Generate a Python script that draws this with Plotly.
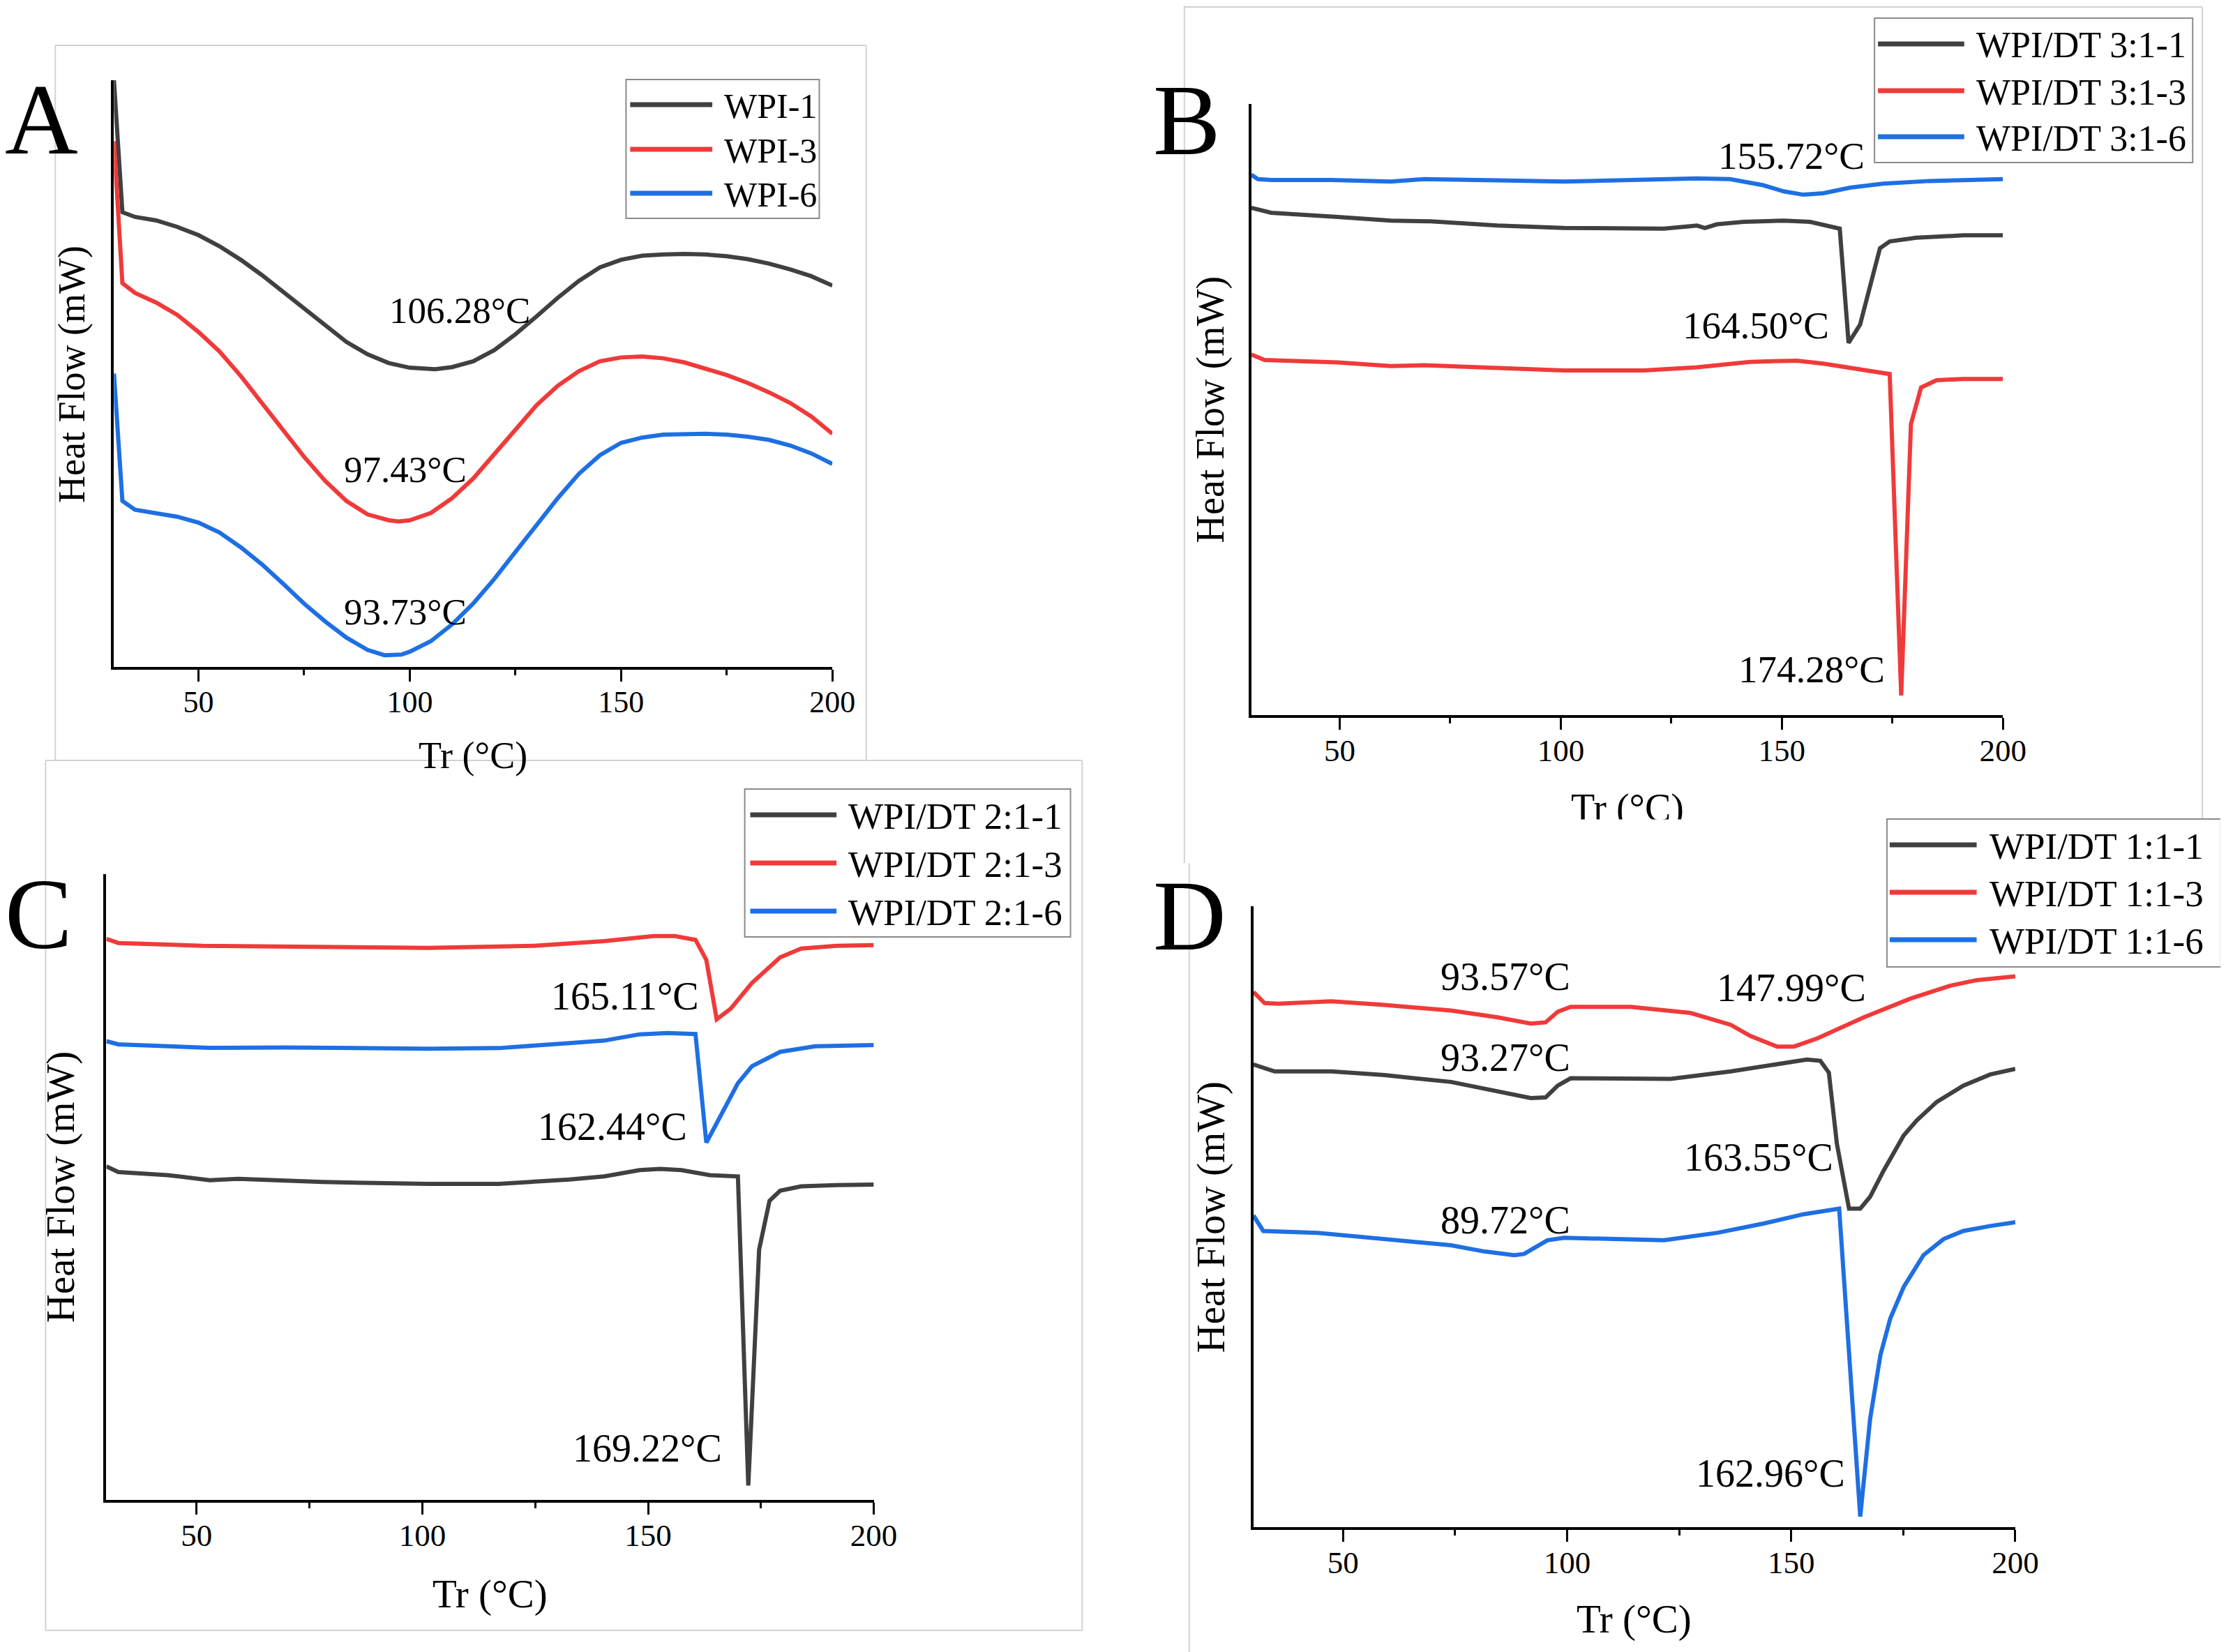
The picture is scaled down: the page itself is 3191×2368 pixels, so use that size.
import plotly.graph_objects as go

W, H = 3191, 2368
FONT = "Liberation Serif"
C_BLACK = "#404040"
C_RED = "#f03a3a"
C_BLUE = "#1e6fe3"

# ---------------- Panel A (WPI) ----------------
a_t1 = [30, 32, 35, 40, 45, 50, 55, 60, 65, 70, 75, 80, 85, 90, 95, 100, 106, 110, 115, 120,
        125, 130, 135, 140, 145, 150, 155, 160, 165, 170, 175, 180, 185, 190, 195, 200]
a_hf1 = [100.0, 77.5, 76.7, 76.1, 75.0, 73.6, 71.7, 69.4, 66.8, 63.9, 61.1, 58.1, 55.4, 53.3, 51.8,
         51.0, 50.75, 51.1, 52.1, 54.0, 56.7, 59.75, 62.9, 65.8, 68.1, 69.4, 70.1, 70.3, 70.4, 70.3,
         70.0, 69.5, 68.75, 67.75, 66.6, 65.0]
a_t3 = [30, 32, 35, 40, 45, 50, 55, 60, 65, 70, 75, 80, 85, 90, 95, 97.4, 100, 105, 110, 115, 120,
        125, 130, 135, 140, 145, 150, 155, 160, 165, 170, 175, 180, 185, 190, 195, 200]
a_hf3 = [89.6, 65.4, 63.75, 62.1, 60.0, 57.1, 53.75, 49.6, 45.0, 40.4, 35.8, 31.7, 28.3, 26.0, 25.0,
         24.8, 25.0, 26.25, 28.75, 32.1, 36.25, 40.4, 44.6, 47.9, 50.4, 52.1, 52.75, 52.9, 52.6, 51.9,
         50.9, 49.75, 48.4, 46.8, 45.0, 42.7, 39.75]
a_t6 = [30, 32, 35, 40, 45, 50, 55, 60, 65, 70, 75, 80, 85, 90, 94, 98, 100, 105, 110, 115, 120,
        125, 130, 135, 140, 145, 150, 155, 160, 165, 170, 175, 180, 185, 190, 195, 200]
a_hf6 = [50.0, 28.3, 26.8, 26.25, 25.6, 24.6, 22.9, 20.4, 17.5, 14.2, 10.8, 7.75, 5.0, 2.9, 2.0,
         2.1, 2.6, 4.4, 7.25, 10.8, 15.0, 19.6, 24.2, 28.75, 32.9, 36.1, 38.2, 39.1, 39.6, 39.75,
         39.75, 39.6, 39.25, 38.7, 37.75, 36.4, 34.6]
a_names = ["WPI-1", "WPI-3", "WPI-6"]
a_peaks = ["106.28°C", "97.43°C", "93.73°C"]
a_peak_t = [111.8, 98.9, 98.9]
a_peak_hf = [60.8, 33.6, 9.4]

# ---------------- Panel B (WPI/DT 3:1) ----------------
b_t1 = [30, 34.5, 49.6, 61.6, 70.6, 85.7, 100.7, 123.3, 129.3, 130.8, 132.6, 135.3, 141.3, 150.4,
        156.4, 163.1, 165.1, 167.7, 172.2, 174.4, 180.4, 191.0, 200]
b_hf1 = [83.0, 82.2, 81.5, 80.9, 80.8, 80.1, 79.7, 79.6, 80.0, 80.1, 79.7, 80.3, 80.7, 80.9,
         80.7, 79.6, 60.9, 63.9, 76.4, 77.5, 78.1, 78.5, 78.5]
b_t3 = [30, 33.0, 49.6, 61.6, 69.1, 85.7, 100.7, 118.8, 130.8, 142.8, 153.4, 159.4, 168.4, 174.4,
        177.0, 179.2, 181.5, 185.0, 191.0, 200]
b_hf3 = [59.0, 58.1, 57.7, 57.1, 57.25, 56.8, 56.4, 56.4, 56.9, 57.8, 58.0, 57.5, 56.4, 55.8,
         3.2, 47.6, 53.6, 54.8, 55.0, 55.0]
b_t6 = [30, 31.5, 34.5, 48.1, 61.6, 69.1, 85.7, 100.7, 130.8, 138.3, 145.8, 150.4, 154.9, 159.4,
        165.4, 172.9, 183.5, 200]
b_hf6 = [88.4, 87.7, 87.55, 87.55, 87.3, 87.7, 87.5, 87.3, 87.8, 87.7, 86.7, 85.7, 85.15, 85.4,
         86.3, 86.95, 87.4, 87.7]
b_names = ["WPI/DT 3:1-1", "WPI/DT 3:1-3", "WPI/DT 3:1-6"]
b_peaks = ["155.72°C", "164.50°C", "174.28°C"]
b_peak_t = [152.2, 144.1, 156.7]
b_peak_hf = [91.5, 63.8, 7.5]

# ---------------- Panel C (WPI/DT 2:1) ----------------
c_t1 = [30, 32.65, 43.6, 52.9, 59.2, 77.9, 101.3, 116.9, 132.5, 140.3, 148.1, 152.7, 157.4, 163.7,
        169.9, 172.2, 174.6, 176.9, 179.25, 183.9, 191.7, 200]
c_hf1 = [53.3, 52.4, 51.9, 51.1, 51.3, 50.8, 50.5, 50.5, 51.2, 51.7, 52.7, 52.9, 52.7, 51.9,
         51.7, 2.3, 40.0, 47.8, 49.4, 50.1, 50.3, 50.4]
c_t3 = [30, 32.65, 51.4, 70.1, 101.3, 124.7, 140.3, 151.2, 155.9, 160.5, 162.9, 165.2, 168.3, 173.0,
        179.25, 183.9, 191.7, 200]
c_hf3 = [89.65, 89.0, 88.55, 88.4, 88.2, 88.55, 89.3, 90.1, 90.1, 89.5, 86.3, 76.8, 78.5, 82.6,
         86.7, 88.1, 88.55, 88.65]
c_t6 = [30, 32.65, 52.9, 70.1, 101.3, 116.9, 132.5, 140.3, 148.1, 154.3, 160.5, 162.9, 165.2, 169.9,
        173.0, 179.25, 187.0, 200]
c_hf6 = [73.3, 72.8, 72.25, 72.3, 72.1, 72.2, 73.0, 73.4, 74.4, 74.6, 74.45, 57.1, 60.2, 66.6,
         69.3, 71.6, 72.5, 72.7]
c_names = ["WPI/DT 2:1-1", "WPI/DT 2:1-3", "WPI/DT 2:1-6"]
c_peaks = ["165.11°C", "162.44°C", "169.22°C"]
c_peak_t = [144.9, 142.1, 149.9]
c_peak_hf = [80.5, 59.6, 8.3]

# ---------------- Panel D (WPI/DT 1:1) ----------------
d_t1 = [30, 34.75, 47.4, 59.25, 74.1, 84.5, 91.9, 95.2, 97.9, 100.8, 114.2, 123.1, 136.5, 146.85,
        153.5, 156.5, 158.4, 160.2, 162.9, 165.4, 167.6, 170.6, 175.1, 178.0, 182.5, 188.4, 194.4, 200]
d_hf1 = [74.5, 73.4, 73.4, 72.8, 71.7, 70.2, 69.1, 69.2, 71.1, 72.3, 72.3, 72.2, 73.4, 74.5,
         75.3, 75.1, 73.2, 61.7, 51.3, 51.3, 53.2, 57.4, 63.1, 65.5, 68.5, 71.1, 72.9, 73.8]
d_t3 = [30, 32.5, 35.5, 47.4, 59.25, 74.1, 84.5, 91.9, 95.2, 97.9, 100.8, 114.2, 127.55, 136.5,
        140.9, 146.85, 150.6, 155.8, 166.2, 176.5, 185.5, 191.4, 200]
d_hf3 = [86.2, 84.4, 84.3, 84.7, 84.1, 83.2, 82.1, 81.1, 81.3, 83.0, 83.8, 83.8, 82.8, 80.9,
         79.1, 77.4, 77.4, 78.7, 82.1, 85.1, 87.2, 88.1, 88.7]
d_t6 = [30, 32.2, 44.4, 59.25, 74.1, 81.5, 88.2, 90.4, 95.6, 99.3, 121.6, 133.5, 143.9, 152.8,
        160.7, 165.4, 167.6, 169.9, 172.1, 175.1, 179.5, 184.0, 188.4, 194.4, 200]
d_hf6 = [50.2, 47.7, 47.4, 46.4, 45.4, 44.4, 43.8, 44.0, 46.2, 46.6, 46.2, 47.4, 48.9, 50.4,
         51.3, 1.7, 17.4, 27.7, 33.6, 38.7, 43.8, 46.4, 47.7, 48.5, 49.1]
d_names = ["WPI/DT 1:1-1", "WPI/DT 1:1-3", "WPI/DT 1:1-6"]
d_peaks = ["93.57°C", "147.99°C", "93.27°C", "163.55°C", "89.72°C", "162.96°C"]
d_peak_t = [86.3, 150.1, 86.3, 142.8, 86.3, 145.4]
d_peak_hf = [88.6, 86.9, 75.6, 59.6, 49.4, 8.6]

x_ticks = [50, 100, 150, 200]
x_minor = [75, 125, 175]
x_title = "Tr (°C)"
y_title = "Heat Flow (mW)"
colors = [C_BLACK, C_RED, C_BLUE]


def fx(px):
    return px / W


def fy(py):
    return 1 - py / H


panels = [
    dict(key="", series=[(a_t1, a_hf1), (a_t3, a_hf3), (a_t6, a_hf6)], names=a_names,
         peaks=(a_peaks, a_peak_t, a_peak_hf), xd=(157, 1198), yd=(107, 948),
         letter="A", letter_pos=(52, 163), ytit=(96, 528), xtit=(677, 1075),
         leg=dict(box=(899, 106, 1179, 305), lx=(905, 1024), rows=(142, 206, 269), tx=1039, fs=50),
         fs_note=53, fs_title=54, fs_tick=44),
    dict(key="2", series=[(b_t1, b_hf1), (b_t3, b_hf3), (b_t6, b_hf6)], names=b_names,
         peaks=(b_peaks, b_peak_t, b_peak_hf), xd=(1805, 2894), yd=(141, 1017),
         letter="B", letter_pos=(1712, 164), ytit=(1747, 579), xtit=(2350, 1150),
         leg=dict(box=(2708, 18, 3169, 225), lx=(2713, 2838), rows=(55, 122, 188), tx=2853, fs=52),
         fs_note=55, fs_title=56, fs_tick=45),
    dict(key="3", series=[(c_t1, c_hf1), (c_t3, c_hf3), (c_t6, c_hf6)], names=c_names,
         peaks=(c_peaks, c_peak_t, c_peak_hf), xd=(146, 1258), yd=(1245, 2142),
         letter="C", letter_pos=(48, 1302), ytit=(80, 1694), xtit=(702, 2277),
         leg=dict(box=(1071, 1123, 1543, 1335), lx=(1079, 1204), rows=(1160, 1229, 1298), tx=1219, fs=53),
         fs_note=56, fs_title=57, fs_tick=45),
    dict(key="4", series=[(d_t1, d_hf1), (d_t3, d_hf3), (d_t6, d_hf6)], names=d_names,
         peaks=(d_peaks, d_peak_t, d_peak_hf), xd=(1808, 2912), yd=(1291, 2181),
         letter="D", letter_pos=(1716, 1304), ytit=(1747, 1737), xtit=(2360, 2313),
         leg=dict(box=(2726, 1166, 3210, 1378), lx=(2730, 2856), rows=(1203, 1271, 1339), tx=2873, fs=53),
         fs_note=56, fs_title=57, fs_tick=45),
]

fig = go.Figure()
annotations = []
shapes = []

# faint borders of the four sub-images
border = dict(color="#d2d2d2", width=2)
for (x0, y0, x1, y1) in [
    (72, 57, 72, 1082), (72, 57, 1247, 57), (1247, 57, 1247, 1082),          # A
    (58, 1082, 1560, 1082), (58, 1082, 58, 2329), (1560, 1082, 1560, 2329), (58, 2329, 1560, 2329),  # C
    (1708, 0, 1708, 1229), (1708, 2, 3183, 2), (3183, 2, 3183, 1166),        # B
    (1715, 1229, 1715, 2368),                                                 # D
]:
    shapes.append(dict(type="line", xref="paper", yref="paper", x0=fx(x0), y0=fy(y0),
                       x1=fx(x1), y1=fy(y1), line=border, layer="below"))

layout_axes = {}
for p in panels:
    k = p["key"]
    xa, ya = "x" + k, "y" + k
    for (t, hf), name, col in zip(p["series"], p["names"], colors):
        fig.add_trace(go.Scatter(x=t, y=hf, mode="lines", name=name, xaxis=xa, yaxis=ya,
                                 line=dict(color=col, width=6), showlegend=False))
    layout_axes["xaxis" + k] = dict(
        domain=[fx(p["xd"][0]), fx(p["xd"][1])], anchor=ya, range=[30, 200],
        showline=True, linecolor="black", linewidth=3.5, showgrid=False, zeroline=False,
        tickmode="array", tickvals=x_ticks, ticks="outside", ticklen=17, tickwidth=3,
        tickcolor="black", tickfont=dict(family=FONT, size=p["fs_tick"], color="black"),
        ticklabelstandoff=-9,
        minor=dict(tickmode="array", tickvals=x_minor, ticks="outside", ticklen=8,
                   tickwidth=3, tickcolor="black", showgrid=False),
        fixedrange=True)
    layout_axes["yaxis" + k] = dict(
        domain=[fy(p["yd"][1]), fy(p["yd"][0])], anchor=xa, range=[0, 100],
        showline=True, linecolor="black", linewidth=3.5, showgrid=False, zeroline=False,
        showticklabels=False, ticks="", fixedrange=True)

    # peak labels
    texts, pts, phf = p["peaks"]
    for txt, t, v in zip(texts, pts, phf):
        annotations.append(dict(text=txt, x=t, y=v, xref=xa, yref=ya, showarrow=False,
                                xanchor="center", yanchor="middle",
                                font=dict(family=FONT, size=p["fs_note"], color="black")))
    # panel letter
    lx, ly = p["letter_pos"]
    annotations.append(dict(text=p["letter"], x=fx(lx), y=fy(ly), xref="paper", yref="paper",
                            showarrow=False, xanchor="center", yanchor="middle",
                            font=dict(family=FONT, size=145, color="black")))
    # axis titles
    tx_, ty_ = p["ytit"]
    annotations.append(dict(text=y_title, x=fx(tx_), y=fy(ty_), xref="paper", yref="paper",
                            showarrow=False, textangle=-90, xanchor="center", yanchor="middle",
                            font=dict(family=FONT, size=p["fs_title"], color="black")))
    tx_, ty_ = p["xtit"]
    annotations.append(dict(text=x_title, x=fx(tx_), y=fy(ty_), xref="paper", yref="paper",
                            showarrow=False, xanchor="center", yanchor="middle",
                            font=dict(family=FONT, size=p["fs_title"], color="black")))
    if k == "2":
        # the sub-image D overlaps the bottom of panel B's axis title
        annotations.append(dict(text=" ", x=fx(2350), y=fy(1166), xref="paper", yref="paper",
                                showarrow=False, xanchor="center", yanchor="top",
                                width=420, height=70, bgcolor="white", borderpad=0,
                                font=dict(size=10)))
    # legend box
    lg = p["leg"]
    bx0, by0, bx1, by1 = lg["box"]
    shapes.append(dict(type="rect", xref="paper", yref="paper", x0=fx(bx0), y0=fy(by1),
                       x1=fx(bx1), y1=fy(by0), line=dict(color="#8a8a8a", width=2),
                       fillcolor="rgba(0,0,0,0)", layer="above"))
    for row, name, col in zip(lg["rows"], p["names"], colors):
        shapes.append(dict(type="line", xref="paper", yref="paper", x0=fx(lg["lx"][0]),
                           y0=fy(row), x1=fx(lg["lx"][1]), y1=fy(row),
                           line=dict(color=col, width=7), layer="above"))
        annotations.append(dict(text=name, x=fx(lg["tx"]), y=fy(row + 2), xref="paper",
                                yref="paper", showarrow=False, xanchor="left", yanchor="middle",
                                font=dict(family=FONT, size=lg["fs"], color="black")))

fig.update_layout(
    width=W, height=H, margin=dict(l=0, r=0, t=0, b=0, pad=0),
    paper_bgcolor="white", plot_bgcolor="rgba(0,0,0,0)",
    showlegend=False, annotations=annotations, shapes=shapes,
    font=dict(family=FONT, color="black"),
    **layout_axes,
)

fig.write_html("out.html")
